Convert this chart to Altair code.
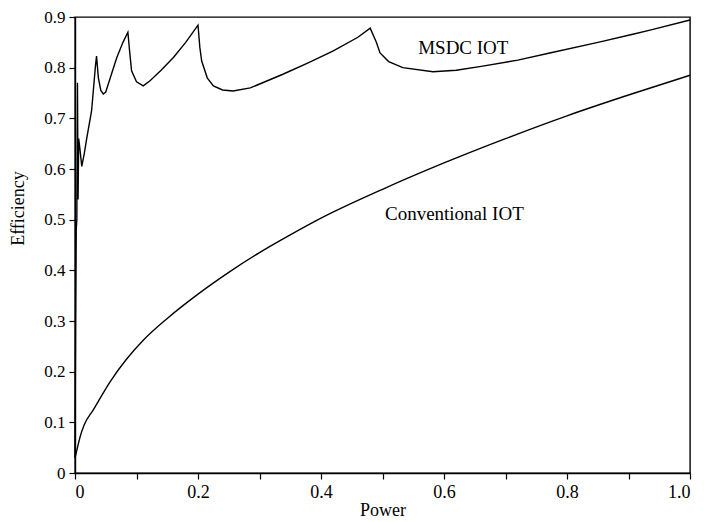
import altair as alt
import pandas as pd

# MSDC IOT efficiency curve
msdc_x = [0, 0.001, 0.002, 0.003, 0.004, 0.005, 0.006, 0.008, 0.011, 0.015, 0.019,
          0.027, 0.033, 0.035, 0.038, 0.042, 0.046, 0.05, 0.06, 0.068, 0.078, 0.086,
          0.089, 0.092, 0.1, 0.111, 0.122, 0.14, 0.16, 0.18, 0.2, 0.203, 0.206, 0.215,
          0.225, 0.24, 0.257, 0.285, 0.338, 0.38, 0.42, 0.46, 0.48, 0.49, 0.496, 0.51,
          0.533, 0.582, 0.62, 0.663, 0.72, 0.772, 0.854, 0.907, 0.935, 1.0]
msdc_y = [0.03, 0.30, 0.48, 0.50, 0.77, 0.54, 0.66, 0.64, 0.605, 0.63, 0.66,
          0.715, 0.80, 0.823, 0.78, 0.755, 0.748, 0.752, 0.79, 0.82, 0.85, 0.87,
          0.83, 0.794, 0.772, 0.764, 0.774, 0.795, 0.82, 0.85, 0.884, 0.84, 0.813, 0.78,
          0.764, 0.756, 0.754, 0.76, 0.787, 0.81, 0.833, 0.86, 0.878, 0.85, 0.829, 0.812,
          0.80, 0.792, 0.795, 0.803, 0.815, 0.829, 0.851, 0.866, 0.874, 0.894]

# Conventional IOT efficiency curve
conv_x = [0, 0.003, 0.008, 0.015, 0.03, 0.057, 0.084, 0.111, 0.15, 0.2, 0.25, 0.3,
          0.35, 0.4, 0.5, 0.6, 0.7, 0.8, 0.9, 1.0]
conv_y = [0.03, 0.045, 0.07, 0.095, 0.125, 0.18, 0.225, 0.262, 0.305, 0.353, 0.396, 0.435,
          0.47, 0.503, 0.56, 0.612, 0.66, 0.705, 0.746, 0.785]

# annotations
label_text = ["MSDC IOT", "Conventional IOT"]
label_x = [0.558, 0.504]
label_y = [0.827, 0.50]

x_ticks = [round(i * 0.1, 1) for i in range(11)]
y_ticks = [round(i * 0.1, 1) for i in range(10)]

FONT = "Liberation Serif"

msdc = pd.DataFrame({"power": msdc_x, "eff": msdc_y})
conv = pd.DataFrame({"power": conv_x, "eff": conv_y})
labels = pd.DataFrame({"power": label_x, "eff": label_y, "text": label_text})

xscale = alt.Scale(domain=[0, 1], nice=False, zero=False)
yscale = alt.Scale(domain=[0, 0.9], nice=False)

xaxis = alt.Axis(
    title="Power", values=x_ticks, grid=False,
    labelExpr="datum.value == 0 ? '0' : (round(datum.value*10) % 2 == 0 ? format(datum.value, '.1f') : '')",
    tickSize=6, labelPadding=4, titleBaseline="alphabetic", titleY=42,
    labelFont=FONT, labelFontSize=18, labelColor="black",
    titleFont=FONT, titleFontSize=18, titleColor="black", titleFontWeight="normal",
    domainColor="black", domainWidth=1.4, tickColor="black", tickWidth=1.2,
)
yaxis = alt.Axis(
    title="Efficiency", values=y_ticks, grid=False,
    labelExpr="datum.value == 0 ? '0' : format(datum.value, '.1f')",
    tickSize=6, labelPadding=4, titleX=-57, titleY=191,
    titleAngle=-90, titleAlign="center", titleBaseline="middle",
    labelFont=FONT, labelFontSize=17, labelColor="black",
    titleFont=FONT, titleFontSize=18, titleColor="black", titleFontWeight="normal",
    domainColor="black", domainWidth=1.4, tickColor="black", tickWidth=1.2,
)

base_x = alt.X("power:Q", scale=xscale, axis=xaxis)
base_y = alt.Y("eff:Q", scale=yscale, axis=yaxis)

line_msdc = alt.Chart(msdc).mark_line(color="black", strokeWidth=1.4).encode(
    x=base_x, y=base_y, order="power:Q")
line_conv = alt.Chart(conv).mark_line(color="black", strokeWidth=1.4, interpolate="monotone").encode(
    x=base_x, y=base_y)
text = alt.Chart(labels).mark_text(
    align="left", baseline="alphabetic", font=FONT, fontSize=19, color="black"
).encode(x=base_x, y=base_y, text="text:N")

chart = (line_msdc + line_conv + text).properties(
    width=615, height=456, autosize="none", background="white",
    padding={"left": 67, "top": 9, "right": 6, "bottom": 48},
).configure_view(
    stroke="black", strokeWidth=1.4
)

chart.save("out.html", embed_options={"renderer": "svg", "actions": False})
